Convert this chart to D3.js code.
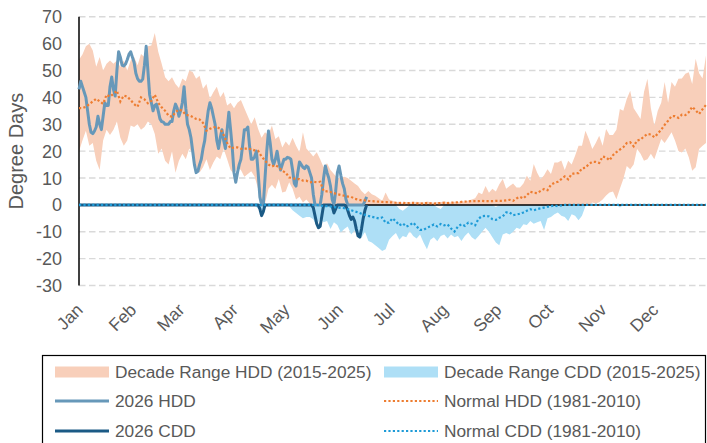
<!DOCTYPE html>
<html>
<head>
<meta charset="utf-8">
<script src="https://cdn.jsdelivr.net/npm/d3@7"></script>
<style>
  html, body { margin: 0; padding: 0; background: #fff; }
  svg { display: block; font-family: "Liberation Sans", Arial, sans-serif; }
</style>
</head>
<body>
<svg id="chart" width="707" height="443"></svg>
<script>
// ---------------- DATA ----------------
const months = ["Jan","Feb","Mar","Apr","May","Jun","Jul","Aug","Sep","Oct","Nov","Dec"];
const monthStartDays = [0,31,59,90,120,151,181,212,243,273,304,334];
const yTicks = [-30,-20,-10,0,10,20,30,40,50,60,70];
const bandStepDays = 2; // range & normal series: one value every 2 days of the year

// Decade range HDD (2015-2025): max and min
const hddHi = [
54,56,59,60,57.5,51.4,55,50,52.5,53.7,
52.5,53.7,51.3,53.7,50,53.7,55,52,56.2,55,
59,59.3,64,57,52.5,47.5,46,47.5,45,43.5,
47,46,50,49.5,46.9,48.1,43.2,45,39.4,41.9,
44,40,42,37,38,36,38,39,36,33,
30,32.6,28.2,25,27,26,29.5,24.5,25.5,21.4,
23.6,22,25,22,19.6,27,21,19.6,18,19.6,
17,14,15.5,13,11.5,10,10,10.5,10,9,
8,7,5.2,4,5.2,4,3.4,2.5,1.5,4.6,
2,1.5,1,1.2,0.8,1,1,0.8,1.2,1,
0.9,1.3,1,0.8,1.1,1,1.4,1,0.9,1.2,
1,1.5,1.2,1.6,2,2.5,4.6,4,7,4.5,
6,5,7.7,9.6,6,7,8,6.5,6.5,8,
10.8,9,15.2,12,9.5,11,13.3,11.5,15.8,15.8,
16.5,13,16.4,15,18.3,22,22,27.6,24.5,20.8,
23,25.7,22,28.2,26,26,28,35.7,35,39.4,
42.5,36,34,32,42,46.9,36,29.5,35,38,
45.7,38,45.7,44,46.9,47,48.8,49.4,45,54.4,
49,47,55.6];
const hddLo = [
20,24,27.6,22,23,16.4,13,24,28,26,
28,31,25,22,24,29.5,29,30,28,29,
31,30,26.4,19,21,16.4,15,20,12,16.4,
19,17,21,19,14,12.1,14,17,13,15.8,
18,17,20.8,17,13,11.5,14,13,10.5,11.5,
12.5,10.5,5.9,2,0.5,6,7.5,5.9,9.6,4.6,
5,8.4,6,2,3,0.9,2,0.5,0,0,
0,0,0,0,0,0,0,0,0,0,
0,0,0,0,0,0,0,0,0,0,
0,0,0,0,0,0,0,0,0,0,
0,0,0,0,0,0,0,0,0,0,
0,0,0,0,0,0,0,0,0,0,
0,0,0,0,0,0,0,0,0,0,
0,0,0,0,0,0,0,0,0,0,
0,0,0,0,0,0,0,0,0,0.9,
0.5,1,2,3.5,4.6,5,2.1,6,9.6,14.5,
13.3,15,20.8,19,16.4,17,19,17,20.8,24.5,
23,25,27,24,20.1,19.5,21,17.7,12.7,14,
20.8,22,23];
// Decade range CDD (2015-2025), plotted as negative: near-zero edge and deep edge
const cddHi = [
0,0,0,0,0,0,0,0,0,0,
0,0,0,0,0,0,0,0,0,0,
0,0,0,0,0,0,0,0,0,0,
0,0,0,0,0,0,0,0,0,0,
0,0,0,0,0,0,0,0,0,0,
0,0,0,0,0,0,0,0,0,0,
0,0,0,0,0,0,0,0,0,0,
0,0,0,0,0,0,0,0,0,0,
0,0,0,0,0,0,0,0,0,0,
0,0,0,-1.5,-2.2,-1.2,0,0,0,0,
0,0,0,0,-1,-1.5,0,0,0,0,
0,0,0,0,0,0,0,0,0,0,
0,-0.8,0,0,0,0,0,0,0,0,
0,0,0,0,0,0,0,0,0,0,
0,0,0,0,0,0,0,0,0,0,
0,0,0,0,0,0,0,0,0,0,
0,0,0,0,0,0,0,0,0,0,
0,0,0,0,0,0,0,0,0,0,
0,0,0];
const cddLo = [
0,0,0,0,0,0,0,0,0,0,
0,0,0,0,0,0,0,0,0,0,
0,0,0,0,0,0,0,0,0,0,
0,0,0,0,0,0,0,0,0,0,
0,0,0,0,0,0,0,0,0,0,
0,0,-1.5,-2,-1,0,0,0,0,0,
0,-0.5,-2,-3,-4,-5,-4.5,-4.5,-5.3,-7.8,
-5,-6.5,-6,-9,-6.5,-7.5,-10.3,-9,-8,-11,
-9.5,-11,-12.2,-10,-13.4,-14,-15,-16,-17.2,-16.5,
-13,-11.6,-10.5,-13,-11.6,-12,-9.7,-11.6,-12.5,-11,
-14,-16.5,-13,-12,-13.5,-11.6,-11,-12.5,-11,-12,
-11.6,-13.4,-11.6,-10.3,-12,-13,-11.6,-10,-8.5,-10,
-12,-14,-15,-11,-10.5,-11,-10,-8.5,-9,-7.2,
-7.5,-6,-7,-6.5,-6,-9.3,-5,-4.5,-3.5,-2.8,
-4,-4.5,-6,-3.5,-4,-5.7,-4,-0.5,0,0,
0,0,0,0,0,0,0,-1,0,0,
0,0,0,0,0,0,0,0,0,0,
0,0,0,0,0,0,0,0,0,0,
0,0,0];
// Normals (1981-2010)
const normalHdd = [
36,36,36.5,37.5,38.5,39.5,38.5,37.6,41,40.3,
41.3,42.5,38.5,40.7,40.3,39,37.5,36.5,40,39.3,
37.8,38.7,41,38,36.3,35,33.2,32.8,34.5,35.5,
35,33.5,33.3,32.7,32,31.8,30.5,27.6,28.3,28.9,
29,28.3,26,23,21,21.4,21.4,20.9,20.9,21,
20.7,20.3,20.1,18,16.5,15,14.3,14.8,14,12.7,
12,10.2,10,9.6,9.6,9,9,8.4,8.6,8.4,
8.6,5.2,5,4.8,4.4,4,3.7,3.4,3.1,3,
2.3,2,1.7,1.7,1.5,1.4,1.3,1.2,1.1,1,
1,0.9,0.8,0.7,0.8,0.6,0.7,0.8,0.6,0.5,
0.6,0.7,0.6,0.5,0.6,0.7,0.8,0.7,0.8,0.9,
1,1.1,1.2,1.3,1.4,1.4,1.4,1.5,1.4,1.4,
1.4,1.5,1.5,1.5,1.7,1.9,1.5,2.4,3,2.4,
3.6,4.9,4.5,4.4,5.2,5.9,5.5,7.5,8.2,8.6,
9.6,10.6,9.5,11.5,11.8,11.8,13.6,13.8,15.2,16,
16,15.6,18,17.7,16.6,18.5,19.6,20.6,21.5,23,
23.3,21.8,24,24.3,25.5,26.4,26.2,25.2,26.5,28,
29.8,31.3,33,33,32.4,33.6,33.4,34.5,36.5,35.2,
33.8,35.6,37.2];
const normalCdd = [
0,0,0,0,0,0,0,0,0,0,
0,0,0,0,0,0,0,0,0,0,
0,0,0,0,0,0,0,0,0,0,
0,0,0,0,0,0,0,0,0,0,
0,0,0,0,0,0,0,0,0,0,
0,0,0,0,0,0,0,0,0,0,
0,0,0,0,0,0,0,0,0,0,
-0.2,-0.4,-0.5,-0.6,-0.8,-1,-1.1,-1.2,-1.6,-2,
-2.4,-2.8,-3.3,-3.7,-4.1,-4.4,-4.7,-5,-4.7,-6.6,
-6.6,-5,-6.1,-7.6,-6.9,-8.1,-7.5,-6.6,-8,-9.3,
-9.3,-8.5,-8,-7.3,-8,-7.1,-7.6,-7.3,-8.8,-9.9,
-8,-7.2,-7.8,-6.6,-7,-7.6,-5.1,-4.2,-4.1,-4.3,
-5.3,-5.6,-4.8,-4.3,-2.8,-2.8,-3.8,-3.6,-3.3,-2.8,
-2.2,-1.6,-2,-1.6,-1.3,-1,-0.7,-0.5,-0.2,-0.5,
-0.2,0,0,0,0,0,0,0,0,0,
0,0,0,0,0,0,0,0,0,0,
0,0,0,0,0,0,0,0,0,0,
0,0,0,0,0,0,0,0,0,0,
0,0,0];
// 2026 daily values (day 0 = Jan 1)
const hdd2026 = [
43,46,44,42,40,35,30,27,26.5,27.5,
29,33,30,28,33,38,37,37,44,47.6,
43,40.5,50,57,55,52,51.7,52.4,54,56,
57,55,53,49,47,46,46,46.8,52,59,
50,41,38,35,37,37.5,35,32,31,30.8,
30,30,30,31,31,35,37.5,36,33,35,
38,44,36,30,28,25,20,15,12,12.5,
15,17,21,24,30,35,38,36,33,30,
24,21,25,28,24,21,28,34.5,28,21,
12,8.4,12,15,17,22,28,28,29,22,
17,17,18,20,12,3,0,0,10,20,
27.5,23,17,15,17,20,16,13,15,17,
17,17.7,17.5,17,13,8,7,12,16,15,
14,13.5,14.5,14,12,10,4,0,0,0,
0,4,10,14.5,12,10,7,2,0,5,
12,14.5,11,8,6,2,0,0,0,0,
0,0,0,0,0,0,1.5,3];
const cdd2026 = [
0,0,0,0,0,0,0,0,0,0,
0,0,0,0,0,0,0,0,0,0,
0,0,0,0,0,0,0,0,0,0,
0,0,0,0,0,0,0,0,0,0,
0,0,0,0,0,0,0,0,0,0,
0,0,0,0,0,0,0,0,0,0,
0,0,0,0,0,0,0,0,0,0,
0,0,0,0,0,0,0,0,0,0,
0,0,0,0,0,0,0,0,0,0,
0,0,0,0,0,0,0,0,0,0,
0,0,0,0,0,-1.5,-4,-2.5,0,0,
0,0,0,0,0,0,0,0,0,0,
0,0,0,0,0,0,0,0,0,0,
0,0,0,0,0,0,-1,-4,-7,-8.5,
-8,-4,0,0,0,0,0,-0.5,-3,-1.5,
0,0,0,0,0,-0.5,-2,-4,-5.4,-4.5,
-6,-9,-11.5,-12,-9,-5,-2,0];

const legendItems = [
  {label: "Decade Range HDD (2015-2025)", kind: "band", key: "hddBand"},
  {label: "Decade Range CDD (2015-2025)", kind: "band", key: "cddBand"},
  {label: "2026 HDD", kind: "line", key: "hdd2026"},
  {label: "Normal HDD (1981-2010)", kind: "dot", key: "normalHdd"},
  {label: "2026 CDD", kind: "line", key: "cdd2026"},
  {label: "Normal CDD (1981-2010)", kind: "dot", key: "normalCdd"}
];

// ---------------- STYLE ----------------
const colors = {
  hddBand: "#F8CFBA",
  cddBand: "#AEDFF6",
  hdd2026: "#6798B9",
  cdd2026: "#1B5A85",
  normalHdd: "#ED7D31",
  normalCdd: "#1E9BD7"
};
const textColor = "#595959";

// ---------------- CHART ----------------
const svg = d3.select("#chart");
const x = d3.scaleLinear().domain([0, 364]).range([79, 706]);
const y = d3.scaleLinear().domain([-30, 70]).range([285.5, 16.8]);

// gridlines
svg.append("g").selectAll("line")
  .data(yTicks.filter(t => t !== 0))
  .join("line")
  .attr("x1", x(0)).attr("x2", x(364))
  .attr("y1", d => y(d)).attr("y2", d => y(d))
  .attr("stroke", "#D9D9D9").attr("stroke-width", 1.4)
  .attr("stroke-dasharray", "6.5,3.5");

const bandDay = (d, i) => x(i * bandStepDays);

// HDD band
svg.append("path")
  .attr("d", d3.area().x(bandDay).y0((d, i) => y(hddLo[i])).y1(d => y(d))(hddHi))
  .attr("fill", colors.hddBand);
// CDD band
svg.append("path")
  .attr("d", d3.area().x(bandDay).y0((d, i) => y(cddLo[i])).y1(d => y(d))(cddHi))
  .attr("fill", colors.cddBand);

// zero axis line & y axis line
svg.append("line").attr("x1", x(0)).attr("x2", x(364)).attr("y1", y(0)).attr("y2", y(0))
  .attr("stroke", "#000").attr("stroke-width", 1.5);
svg.append("line").attr("x1", x(0)).attr("x2", x(0)).attr("y1", y(70)).attr("y2", y(-30))
  .attr("stroke", "#000").attr("stroke-width", 1.5);

const dailyLine = d3.line().x((d, i) => x(i)).y(d => y(d));
const stepLine = d3.line().x(bandDay).y(d => y(d));

svg.append("path").attr("d", dailyLine(hdd2026)).attr("fill", "none")
  .attr("stroke", colors.hdd2026).attr("stroke-width", 3).attr("stroke-linejoin", "round");
svg.append("path").attr("d", stepLine(normalHdd)).attr("fill", "none")
  .attr("stroke", colors.normalHdd).attr("stroke-width", 2.2).attr("stroke-dasharray", "2.2,2.2");
svg.append("path").attr("d", dailyLine(cdd2026)).attr("fill", "none")
  .attr("stroke", colors.cdd2026).attr("stroke-width", 3).attr("stroke-linejoin", "round");
svg.append("path").attr("d", stepLine(normalCdd)).attr("fill", "none")
  .attr("stroke", colors.normalCdd).attr("stroke-width", 2.2).attr("stroke-dasharray", "2.2,2.2");

// y tick labels
svg.append("g").selectAll("text").data(yTicks).join("text")
  .attr("x", 62).attr("y", d => y(d)).attr("dy", "0.36em")
  .attr("text-anchor", "end").attr("font-size", 18).attr("fill", textColor)
  .text(d => d);

// y title
svg.append("text")
  .attr("transform", `translate(23,${y(20)}) rotate(-90)`)
  .attr("text-anchor", "middle").attr("font-size", 20).attr("fill", textColor)
  .text("Degree Days");

// month labels
svg.append("g").selectAll("text").data(months).join("text")
  .attr("transform", (d, i) => `translate(${x(monthStartDays[i]) + 5},311) rotate(-45)`)
  .attr("text-anchor", "end").attr("font-size", 17.5).attr("fill", textColor)
  .text(d => d);

// legend
const lg = svg.append("g");
lg.append("rect").attr("x", 42.5).attr("y", 355.5).attr("width", 663).attr("height", 110)
  .attr("fill", "#fff").attr("stroke", "#000").attr("stroke-width", 1.2);
const colX = [55, 384];
const rowY = [372, 401, 431];
legendItems.forEach((it, i) => {
  const cx = colX[i % 2], cy = rowY[Math.floor(i / 2)];
  if (it.kind === "band") {
    lg.append("rect").attr("x", cx).attr("y", cy - 5.5).attr("width", 54).attr("height", 11)
      .attr("fill", colors[it.key]);
  } else {
    lg.append("line").attr("x1", cx).attr("x2", cx + 54).attr("y1", cy).attr("y2", cy)
      .attr("stroke", colors[it.key])
      .attr("stroke-width", it.kind === "line" ? 3 : 2.2)
      .attr("stroke-dasharray", it.kind === "dot" ? "2.2,2.2" : null);
  }
  lg.append("text").attr("x", cx + 60).attr("y", cy).attr("dy", "0.36em")
    .attr("font-size", 17.3).attr("fill", textColor).text(it.label);
});
</script>
</body>
</html>
